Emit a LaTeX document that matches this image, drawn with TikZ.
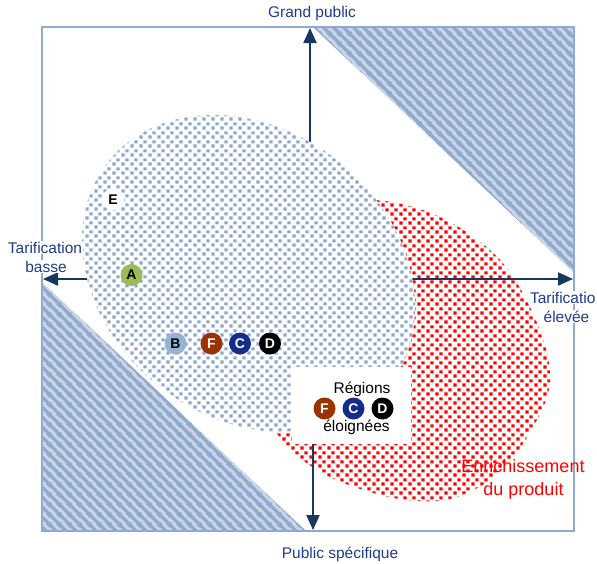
\documentclass[tikz,border=0pt]{standalone}
\usepackage{fontspec}
\setmainfont{Liberation Sans}
\usetikzlibrary{arrows.meta,patterns}
\definecolor{framec}{RGB}{143,170,208}
\definecolor{hatchbg}{RGB}{203,213,227}
\definecolor{dotblue}{RGB}{140,166,206}
\definecolor{axisc}{RGB}{23,55,94}
\definecolor{labelc}{RGB}{31,61,140}
\definecolor{cA}{RGB}{155,187,89}
\definecolor{cB}{RGB}{149,179,215}
\definecolor{cF}{RGB}{153,51,0}
\definecolor{cC}{RGB}{20,45,140}
\definecolor{redc}{RGB}{255,0,0}
\pgfdeclarepatternformonly{pdots}{\pgfpointorigin}{\pgfqpoint{8.5pt}{8.5pt}}{\pgfqpoint{8.5pt}{8.5pt}}{%
  \pgfpathrectangle{\pgfqpoint{0.5pt}{0.5pt}}{\pgfqpoint{3.2pt}{3.2pt}}%
  \pgfpathrectangle{\pgfqpoint{4.75pt}{4.75pt}}{\pgfqpoint{3.2pt}{3.2pt}}%
  \pgfusepath{fill}}
\pgfdeclarepatternformonly{phatch}{\pgfpointorigin}{\pgfqpoint{10pt}{10pt}}{\pgfqpoint{10pt}{10pt}}{%
  \pgfsetlinewidth{3.5pt}%
  \pgfpathmoveto{\pgfqpoint{-2pt}{2pt}}\pgfpathlineto{\pgfqpoint{2pt}{-2pt}}%
  \pgfpathmoveto{\pgfqpoint{-2pt}{12pt}}\pgfpathlineto{\pgfqpoint{12pt}{-2pt}}%
  \pgfpathmoveto{\pgfqpoint{8pt}{12pt}}\pgfpathlineto{\pgfqpoint{12pt}{8pt}}%
  \pgfusepath{stroke}}
\tikzset{
  hatched/.style={fill=hatchbg, postaction={pattern=phatch, pattern color=framec}},
  reddots/.style={fill=white, postaction={pattern=pdots, pattern color=redc}},
  bluedots/.style={fill=white, postaction={pattern=pdots, pattern color=dotblue}},
  axis/.style={draw=axisc, line width=2pt, -{Triangle[length=15pt,width=13pt]}},
  disc/.style={circle, minimum size=22pt, inner sep=0pt, font=\fontsize{14}{14}\selectfont\bfseries},
  lbl/.style={inner sep=0pt, anchor=base, text=labelc, font=\fontsize{15.5}{18}\selectfont},
  wlbl/.style={lbl, fill=white, inner sep=0.8pt},
  btxt/.style={inner sep=0pt, anchor=base, text=black, font=\fontsize{15.5}{18}\selectfont},
  rtxt/.style={inner sep=0pt, anchor=base, text=redc, font=\fontsize{18}{21}\selectfont}
}
\begin{document}
\begin{tikzpicture}[x=1pt,y=-1pt]
\useasboundingbox (0,0) rectangle (597,563);
\fill[white] (0,0) rectangle (597,563);
% hatched corners
\path[hatched] (313,27) -- (574,27) -- (574,273) -- cycle;
\path[hatched] (42,282) -- (42,531) -- (306,531) -- cycle;
% frame
\draw[framec, line width=2pt] (42,27) rectangle (574,531);
% red region
\path[reddots] plot[smooth cycle, tension=0.6] coordinates {
  (373,200) (440,217) (500,260) (537,323) (550,380) (533,427) (500,472)
  (457,497) (417,501) (370,492) (317,470) (275,430) (258,360) (280,270) (330,215)};
% axes
\coordinate (upS) at (310,180);
\coordinate (upE) at (310,28);
\coordinate (dnS) at (313,400);
\coordinate (dnE) at (313,530);
\coordinate (lfS) at (120,279);
\coordinate (lfE) at (43,279);
\coordinate (rtS) at (390,279);
\coordinate (rtE) at (573,279);
\draw[axis] (upS) -- (upE);
\draw[axis] (dnS) -- (dnE);
\draw[axis] (lfS) -- (lfE);
\draw[axis] (rtS) -- (rtE);
% blue region
\path[bluedots] plot[domain=0:360, samples=140, variable=\t]
  ({248.5 + 179.3*cos(\t)*0.784 - 143.9*sin(\t)*0.621},
   {273.5 + 179.3*cos(\t)*0.621 + 143.9*sin(\t)*0.784}) -- cycle;
% white box
\fill[white] (292,367) rectangle (411,444);
% discs
\node[disc, fill=cA, text=black] (A) at (131.5,275) {A};
\node[disc, fill=cB, text=black] (B) at (175.5,343.5) {B};
\node[disc, fill=cF, text=white] (F1) at (211.5,343.5) {F};
\node[disc, fill=cC, text=white] (C1) at (240,343.5) {C};
\node[disc, fill=black, text=white] (D1) at (270,343.5) {D};
\node[disc, fill=white, text=black] (E) at (113,199.5) {E};
\node[disc, fill=cF, text=white] (F2) at (324.5,408.5) {F};
\node[disc, fill=cC, text=white] (C2) at (353.5,408.5) {C};
\node[disc, fill=black, text=white] (D2) at (382.5,408.5) {D};
% texts
\node[btxt] (rg) at (362,393) {Régions};
\node[btxt] (el) at (356.5,431) {éloignées};
\node[lbl] (gp) at (312,17) {Grand public};
\node[wlbl] (tb1) at (45,253) {Tarification};
\node[wlbl] (tb2) at (46,272) {basse};
\node[wlbl, anchor=base west] (te1) at (529,303) {Tarificatio};
\node[wlbl] (te2) at (566.5,322) {élevée};
\node[lbl] (ps) at (340,558) {Public spécifique};
\node[rtxt] (en1) at (523,472.5) {Enrichissement};
\node[rtxt] (en2) at (523.5,495) {du produit};
\end{tikzpicture}
\end{document}
